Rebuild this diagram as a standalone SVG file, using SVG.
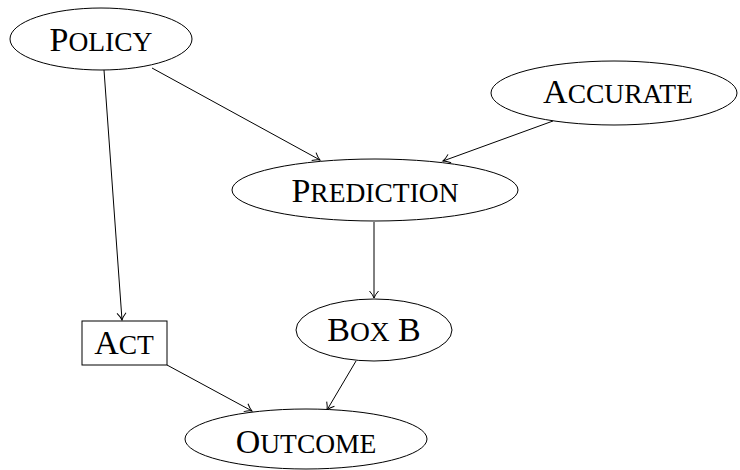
<svg xmlns="http://www.w3.org/2000/svg" width="740" height="470" viewBox="0 0 740 470">
<style>
.n{fill:#fff;stroke:#000;stroke-width:1}
.t{font-family:"Liberation Serif","Times New Roman",serif;font-size:34px;fill:#000;text-anchor:middle}
.s{font-size:27.5px}
.e{fill:none;stroke:#000;stroke-width:1;marker-end:url(#arr)}
</style>
<defs>
<marker id="arr" markerUnits="userSpaceOnUse" markerWidth="14" markerHeight="14" refX="10" refY="7" orient="auto" viewBox="0 0 14 14">
<path d="M3,2.5 Q7,6 10,7 Q7,8 3,11.5" fill="none" stroke="#000" stroke-width="1"/>
</marker>
</defs>
<g id="connectors">
<line class="e" x1="152" y1="68" x2="320" y2="160"/>
<line class="e" x1="104" y1="70" x2="122" y2="320"/>
<line class="e" x1="553" y1="121" x2="443" y2="161"/>
<line class="e" x1="374" y1="222" x2="374" y2="298"/>
<line class="e" x1="167" y1="365" x2="252" y2="411"/>
<line class="e" x1="356" y1="361" x2="327" y2="410"/>
</g>
<g id="policy">
<ellipse class="n" cx="101" cy="39" rx="91" ry="31"/>
<text class="t" x="101" y="51">P<tspan class="s">OLICY</tspan></text>
</g>
<g id="accurate">
<ellipse class="n" cx="614" cy="93" rx="123" ry="32"/>
<text class="t" x="618" y="103">A<tspan class="s">CCURATE</tspan></text>
</g>
<g id="prediction">
<ellipse class="n" cx="375" cy="190" rx="143" ry="31"/>
<text class="t" x="375" y="202">P<tspan class="s">REDICTION</tspan></text>
</g>
<g id="boxb">
<ellipse class="n" cx="374" cy="330" rx="78" ry="31"/>
<text class="t" x="374" y="341">B<tspan class="s">OX</tspan> B</text>
</g>
<g id="act">
<rect class="n" x="82" y="321" width="85" height="44"/>
<text class="t" x="124" y="354">A<tspan class="s">CT</tspan></text>
</g>
<g id="outcome">
<ellipse class="n" cx="306" cy="439" rx="121" ry="30"/>
<text class="t" x="306" y="453">O<tspan class="s">UTCOME</tspan></text>
</g>
</svg>
